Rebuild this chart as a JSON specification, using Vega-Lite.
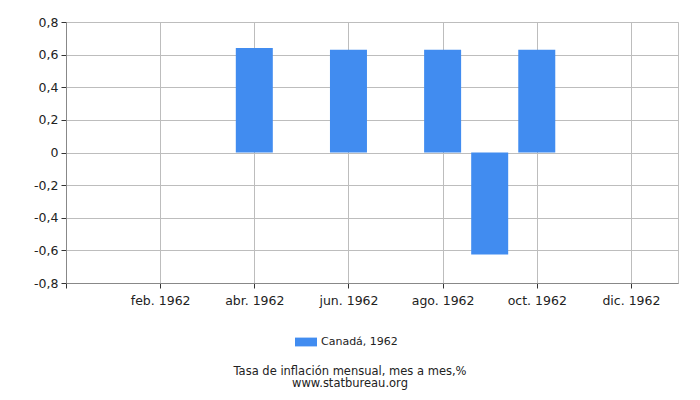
{
  "$schema": "https://vega.github.io/schema/vega-lite/v6.json",
  "width": 612,
  "height": 261,
  "autosize": "none",
  "padding": {"left": 66, "top": 22, "right": 22, "bottom": 117},
  "background": "white",
  "title": {
    "text": "Tasa de inflación mensual, mes a mes,%",
    "subtitle": "www.statbureau.org",
    "orient": "bottom",
    "anchor": "middle",
    "dx": -22,
    "offset": 19,
    "font": "DejaVu Sans",
    "subtitleFont": "DejaVu Sans",
    "fontSize": 11.5,
    "subtitleFontSize": 11.5,
    "fontWeight": "normal",
    "color": "#222",
    "subtitleColor": "#222",
    "subtitlePadding": 0,
    "lineHeight": 11
  },
  "config": {
    "view": {"stroke": "#c0c0c0"},
    "axis": {
      "labelFont": "DejaVu Sans",
      "labelFontSize": 12.5,
      "labelColor": "#222",
      "gridColor": "#bdbdbd",
      "domainColor": "#888",
      "tickColor": "#333",
      "tickSize": 5,
      "title": null
    }
  },
  "data": {
    "values": [
      {"month": "ene. 1962", "m": 1, "value": 0},
      {"month": "feb. 1962", "m": 2, "value": 0},
      {"month": "mar. 1962", "m": 3, "value": 0},
      {"month": "abr. 1962", "m": 4, "value": 0.64},
      {"month": "may. 1962", "m": 5, "value": 0},
      {"month": "jun. 1962", "m": 6, "value": 0.63},
      {"month": "jul. 1962", "m": 7, "value": 0},
      {"month": "ago. 1962", "m": 8, "value": 0.63},
      {"month": "sep. 1962", "m": 9, "value": -0.625},
      {"month": "oct. 1962", "m": 10, "value": 0.63},
      {"month": "nov. 1962", "m": 11, "value": 0},
      {"month": "dic. 1962", "m": 12, "value": 0}
    ]
  },
  "transform": [{"calculate": "'Canadá, 1962'", "as": "series"}],
  "mark": {"type": "bar", "size": 37},
  "encoding": {
    "x": {
      "field": "m",
      "type": "quantitative",
      "scale": {"domain": [0, 13], "nice": false, "zero": false, "padding": 0},
      "axis": {
        "values": [0, 2, 4, 6, 8, 10, 12],
        "labelExpr": "['', 'ene. 1962', 'feb. 1962', 'mar. 1962', 'abr. 1962', 'may. 1962', 'jun. 1962', 'jul. 1962', 'ago. 1962', 'sep. 1962', 'oct. 1962', 'nov. 1962', 'dic. 1962'][datum.value]",
        "labelPadding": 6,
        "labelFlush": false,
        "labelOverlap": false
      }
    },
    "y": {
      "field": "value",
      "type": "quantitative",
      "scale": {"domain": [-0.8, 0.8], "nice": false},
      "axis": {
        "values": [-0.8, -0.6, -0.4, -0.2, 0, 0.2, 0.4, 0.6, 0.8],
        "labelExpr": "datum.value == 0 ? '0' : (datum.value < 0 ? '-' : '') + replace(format(abs(datum.value), '.1f'), '.', ',')",
        "labelPadding": 3,
        "labelFlush": false
      }
    },
    "color": {
      "field": "series",
      "type": "nominal",
      "scale": {"range": ["#418cf0"]},
      "legend": {
        "orient": "none",
        "legendX": 229,
        "legendY": 309,
        "title": null,
        "padding": 0,
        "symbolType": "M-1,-0.4L1,-0.4L1,0.4L-1,0.4Z",
        "symbolSize": 484,
        "symbolStrokeWidth": 0,
        "labelFont": "DejaVu Sans",
        "labelFontSize": 11,
        "labelColor": "#222"
      }
    }
  }
}
